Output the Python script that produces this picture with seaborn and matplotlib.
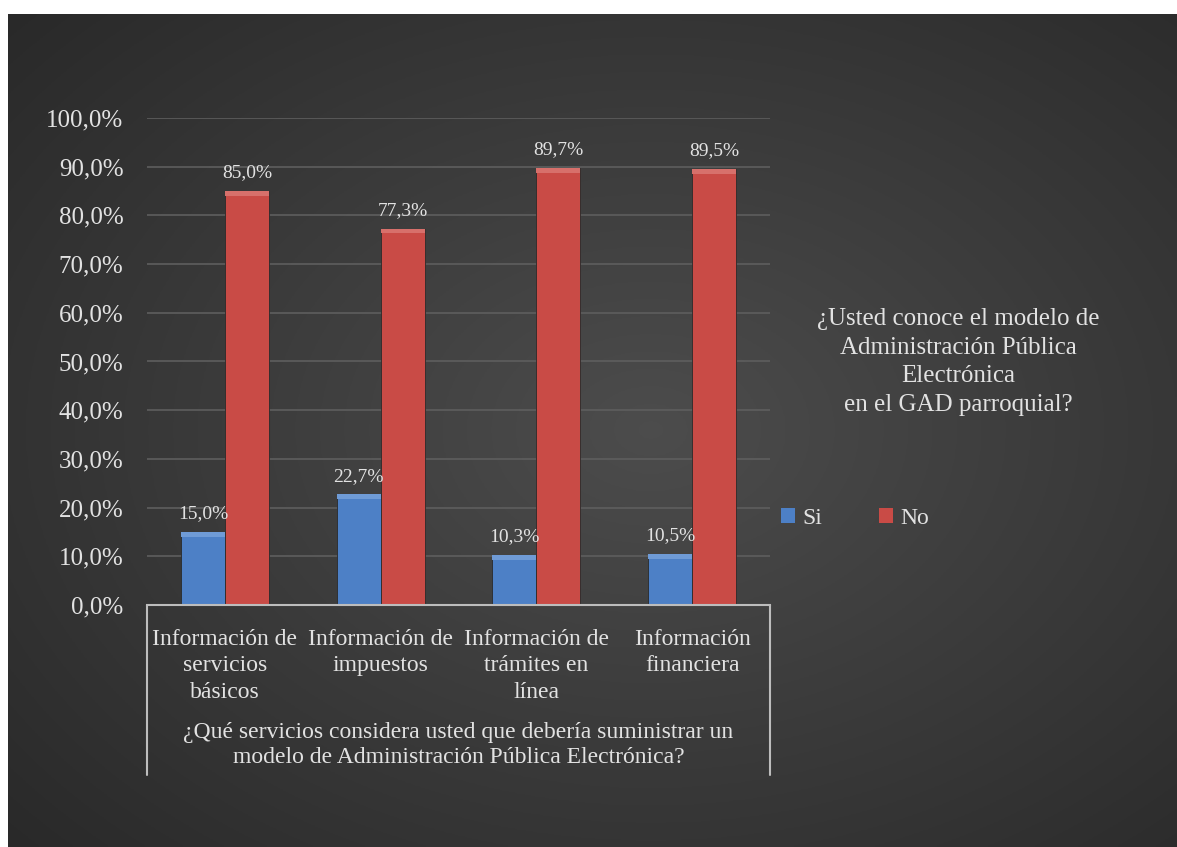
import numpy as np
import pandas as pd
import matplotlib
matplotlib.use("Agg")
import matplotlib.pyplot as plt
from matplotlib.lines import Line2D
from matplotlib.patches import Patch, Rectangle
import seaborn as sns

# Data
CATEGORIES = [
    "Información de\nservicios\nbásicos",
    "Información de\nimpuestos",
    "Información de\ntrámites en\nlínea",
    "Información\nfinanciera",
]
SERIES = ["Si", "No"]
SI_VALUES = [15.0, 22.7, 10.3, 10.5]
NO_VALUES = [85.0, 77.3, 89.7, 89.5]
Y_TICKS = [0, 10, 20, 30, 40, 50, 60, 70, 80, 90, 100]
X_TITLE = "¿Qué servicios considera usted que debería suministrar un\nmodelo de Administración Pública Electrónica?"
LEGEND_TITLE = "¿Usted conoce el modelo de\nAdministración Pública\nElectrónica\nen el GAD parroquial?"

COLORS = {"Si": "#4d80c6", "No": "#c94b46"}
TOPS = {"Si": "#6f9bd6", "No": "#d7706b"}
TEXT = "#e2e2e2"
W, H = 1177, 847


def pct(v):
    return f"{v:.1f}%".replace(".", ",")


df = pd.DataFrame({
    "categoria": CATEGORIES * 2,
    "valor": SI_VALUES + NO_VALUES,
    "serie": ["Si"] * len(SI_VALUES) + ["No"] * len(NO_VALUES),
})

sns.set_theme(style="dark")
plt.rcParams["font.family"] = ["Liberation Serif", "DejaVu Serif"]

fig = plt.figure(figsize=(W / 100, H / 100), dpi=100)
fig.patch.set_facecolor("white")

# dark radial background panel
bg = fig.add_axes([8 / W, 0, 1 - 8 / W, 1 - 14 / H])
gx, gy = np.meshgrid(np.linspace(0, 1, 400), np.linspace(0, 1, 300))
r = np.sqrt(((gx - 0.55) / 0.75) ** 2 + ((gy - 0.5) / 0.75) ** 2)
shade = 0.30 - 0.14 * np.clip(r, 0, 1)
bg.imshow(np.dstack([shade] * 3), aspect="auto", extent=[0, 1, 0, 1], origin="upper")
bg.set_axis_off()

ax = fig.add_axes([147 / W, 1 - 605 / H, 623 / W, 487 / H])
ax.patch.set_alpha(0)

sns.barplot(data=df, x="categoria", y="valor", hue="serie", hue_order=SERIES,
            order=CATEGORIES, palette=COLORS, width=0.565, gap=0, saturation=1,
            edgecolor="#2a2a2a", linewidth=0.6, legend=False, ax=ax)

# soft bevel on top of each bar
for cont, s in zip(ax.containers, SERIES):
    for p in cont.patches:
        ax.add_patch(Rectangle((p.get_x(), p.get_height() - 1.0), p.get_width(), 1.0,
                               facecolor=TOPS[s], edgecolor="none", zorder=3))
    ax.bar_label(cont, labels=[pct(v) for v in cont.datavalues], padding=7,
                 fontsize=14, color=TEXT)

ax.set_ylim(0, 100)
ax.set_xlim(-0.5, len(CATEGORIES) - 0.5)
ax.set_yticks(Y_TICKS)
ax.set_yticklabels([pct(v) for v in Y_TICKS])
ax.tick_params(axis="y", length=0, pad=17, labelsize=18, labelcolor=TEXT)
ax.tick_params(axis="x", length=0, pad=17, labelsize=17, labelcolor=TEXT)
for lab in ax.get_xticklabels():
    lab.set_linespacing(1.35)
ax.set_xlabel("")
ax.set_ylabel("")
ax.yaxis.grid(True, color="#5e5e5e", linewidth=1.2)
ax.xaxis.grid(False)
ax.set_axisbelow(True)

for side in ["top", "right", "left"]:
    ax.spines[side].set_visible(False)
ax.spines["bottom"].set_color("#bdbdbd")
ax.spines["bottom"].set_linewidth(1.5)

# category box below the axis
box_bottom = -(775 - 605) / 487
for xb in (0, 1):
    ax.add_line(Line2D([xb, xb], [0, box_bottom], transform=ax.transAxes,
                       color="#bdbdbd", linewidth=1.5, clip_on=False))
ax.text(0.5, -(745 - 605) / 487, X_TITLE, transform=ax.transAxes, ha="center",
        va="center", fontsize=17, color=TEXT, linespacing=1.2)

# legend title and entries
fig.text(958 / W, 1 - 362 / H, LEGEND_TITLE, ha="center", va="center",
         fontsize=18, color=TEXT, linespacing=1.4)
handles = [Patch(facecolor=COLORS[s], edgecolor="none") for s in SERIES]
leg = fig.legend(handles, SERIES, ncol=2, loc="center left",
                 bbox_to_anchor=(760 / W, 1 - 518 / H), frameon=False,
                 fontsize=17, handlelength=0.6, handleheight=0.6,
                 handletextpad=0.3, columnspacing=2.4)
for t in leg.get_texts():
    t.set_color(TEXT)

fig.savefig("out.png", dpi=100)
